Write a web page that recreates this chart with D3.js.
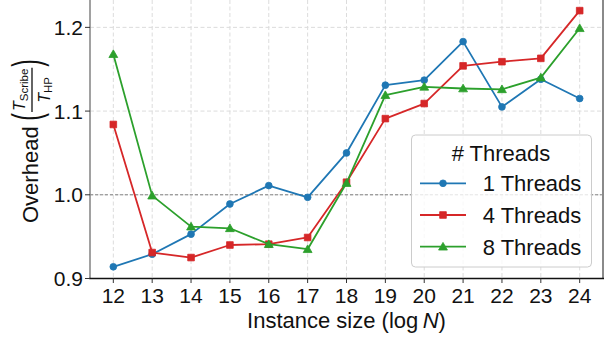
<!DOCTYPE html>
<html>
<head>
<meta charset="utf-8">
<script src="https://cdn.jsdelivr.net/npm/d3@7"></script>
<style>
  html, body { margin: 0; padding: 0; background: #fff; }
  svg { display: block; font-family: "Liberation Sans", Arial, Helvetica, sans-serif; }
</style>
</head>
<body>
<svg id="chart" width="611" height="339"></svg>
<script>
// Instance sizes (log N) and measured overhead T_Scribe / T_HP per thread count
const sizes = [12, 13, 14, 15, 16, 17, 18, 19, 20, 21, 22, 23, 24];
const threads1 = [0.914, 0.929, 0.953, 0.989, 1.011, 0.997, 1.050, 1.131, 1.137, 1.183, 1.105, 1.138, 1.115];
const threads4 = [1.084, 0.931, 0.925, 0.940, 0.941, 0.949, 1.015, 1.091, 1.109, 1.154, 1.159, 1.163, 1.220];
const threads8 = [1.168, 0.999, 0.962, 0.960, 0.941, 0.935, 1.014, 1.119, 1.129, 1.127, 1.126, 1.140, 1.199];
const seriesNames = ["1 Threads", "4 Threads", "8 Threads"];
const yTicks = [0.9, 1.0, 1.1, 1.2];
const xTickLabels = sizes.map(String);
const legendTitle = "# Threads";

const series = [
  { name: seriesNames[0], values: threads1, color: "#1f77b4", marker: "circle" },
  { name: seriesNames[1], values: threads4, color: "#d62728", marker: "square" },
  { name: seriesNames[2], values: threads8, color: "#2ca02c", marker: "triangle" }
];

const svg = d3.select("#chart");
const plot = { left: 90, right: 603, top: 0, bottom: 278.5 };

const x = d3.scaleLinear().domain([11.4, 24.6]).range([plot.left, plot.right]);
const y = d3.scaleLinear().domain([0.9, 1.2327]).range([plot.bottom, plot.top]);

// grid
const grid = svg.append("g");
grid.selectAll("line.vx").data(sizes).join("line")
  .attr("x1", d => x(d)).attr("x2", d => x(d))
  .attr("y1", plot.top).attr("y2", plot.bottom)
  .attr("stroke", "#dcdcdc").attr("stroke-width", 1).attr("stroke-dasharray", "4,2.5");
grid.selectAll("line.hy").data(yTicks).join("line")
  .attr("x1", plot.left).attr("x2", plot.right)
  .attr("y1", d => y(d)).attr("y2", d => y(d))
  .attr("stroke", "#dcdcdc").attr("stroke-width", 1).attr("stroke-dasharray", "4,2.5");

// reference line at overhead = 1
svg.append("line")
  .attr("x1", plot.left).attr("x2", plot.right)
  .attr("y1", y(1.0)).attr("y2", y(1.0))
  .attr("stroke", "#808080").attr("stroke-width", 1).attr("stroke-dasharray", "3,2");

// series
const sym = { circle: d3.symbolCircle, square: d3.symbolSquare, triangle: d3.symbolTriangle };
const symSize = { circle: 36, square: 44, triangle: 34 };
const line = d3.line().x((d, i) => x(sizes[i])).y(d => y(d));

series.forEach(s => {
  const g = svg.append("g");
  g.append("path").datum(s.values)
    .attr("d", line).attr("fill", "none")
    .attr("stroke", s.color).attr("stroke-width", 1.8).attr("stroke-linejoin", "round");
  g.selectAll("path.m").data(s.values).join("path")
    .attr("class", "m")
    .attr("d", d3.symbol().type(sym[s.marker]).size(symSize[s.marker]))
    .attr("transform", (d, i) => `translate(${x(sizes[i])},${y(d) + (s.marker === "triangle" ? 0.8 : 0)})`)
    .attr("fill", s.color).attr("stroke", s.color).attr("stroke-width", 0.8);
});

// spines
svg.append("line").attr("x1", plot.left).attr("x2", plot.left).attr("y1", plot.top).attr("y2", plot.bottom + 0.5)
  .attr("stroke", "#8a8a8a").attr("stroke-width", 1.6);
svg.append("line").attr("x1", plot.right).attr("x2", plot.right).attr("y1", plot.top).attr("y2", plot.bottom + 0.5)
  .attr("stroke", "#8a8a8a").attr("stroke-width", 2);
svg.append("line").attr("x1", plot.left - 0.8).attr("x2", plot.right + 1).attr("y1", plot.bottom).attr("y2", plot.bottom)
  .attr("stroke", "#111").attr("stroke-width", 1.6);

// y ticks and labels
const yAx = svg.append("g");
yAx.selectAll("line").data(yTicks).join("line")
  .attr("x1", plot.left - 5).attr("x2", plot.left)
  .attr("y1", d => y(d)).attr("y2", d => y(d))
  .attr("stroke", "#333").attr("stroke-width", 1);
yAx.selectAll("text").data(yTicks).join("text")
  .attr("x", 83).attr("y", d => y(d) + 7.5)
  .attr("text-anchor", "end").attr("font-size", 21).attr("fill", "#111")
  .text(d => d3.format(".1f")(d));

// x ticks and labels
const xAx = svg.append("g");
xAx.selectAll("line").data(sizes).join("line")
  .attr("x1", d => x(d)).attr("x2", d => x(d))
  .attr("y1", plot.bottom).attr("y2", plot.bottom + 4.5)
  .attr("stroke", "#333").attr("stroke-width", 1);
xAx.selectAll("text").data(sizes).join("text")
  .attr("x", d => x(d)).attr("y", 302.5)
  .attr("text-anchor", "middle").attr("font-size", 21).attr("fill", "#111")
  .text((d, i) => xTickLabels[i]);

// x axis label
const xl = svg.append("text").attr("x", (plot.left + plot.right) / 2).attr("y", 327.5)
  .attr("text-anchor", "middle").attr("font-size", 22).attr("fill", "#111");
xl.append("tspan").text("Instance size (log\u2009");
xl.append("tspan").attr("font-style", "italic").text("N");
xl.append("tspan").text(")");

// y axis label: Overhead ( T_Scribe / T_HP )
const yl = svg.append("g").attr("transform", "translate(37.5,223) rotate(-90)").attr("fill", "#111");
const word = yl.append("text").attr("x", 0).attr("y", 0).attr("font-size", 22).text("Overhead");
let cx = word.node().getComputedTextLength() + 6;

const lp = yl.append("g").attr("transform", `translate(${cx},-7) scale(1,1.85)`);
const lpt = lp.append("text").attr("y", 5.7).attr("font-size", 22).text("(");
cx += lpt.node().getComputedTextLength() + 1;

const num = yl.append("text").attr("font-size", 16);
num.append("tspan").attr("font-style", "italic").text("T");
num.append("tspan").attr("font-size", 11.5).attr("dy", 2.5).text("Scribe");
const den = yl.append("text").attr("font-size", 16);
den.append("tspan").attr("font-style", "italic").text("T");
den.append("tspan").attr("font-size", 11.5).attr("dy", 2.5).text("HP");
const wn = num.node().getComputedTextLength();
const wd = den.node().getComputedTextLength();
const barW = Math.max(wn, wd) + 2;
num.attr("x", cx + (barW - wn) / 2).attr("y", -12.5);
den.attr("x", cx + (barW - wd) / 2).attr("y", 12);
yl.append("line").attr("x1", cx).attr("x2", cx + barW).attr("y1", -5.5).attr("y2", -5.5)
  .attr("stroke", "#111").attr("stroke-width", 1.3);
cx += barW + 1;
const rp = yl.append("g").attr("transform", `translate(${cx},-7) scale(1,1.85)`);
rp.append("text").attr("y", 5.7).attr("font-size", 22).text(")");

// legend
const lg = svg.append("g");
lg.append("rect").attr("x", 411.5).attr("y", 135).attr("width", 180).attr("height", 132).attr("rx", 4)
  .attr("fill", "#fff").attr("fill-opacity", 0.8).attr("stroke", "#cccccc").attr("stroke-width", 1);
lg.append("text").attr("x", 501).attr("y", 161).attr("text-anchor", "middle")
  .attr("font-size", 22).attr("fill", "#111").text(legendTitle);
series.forEach((s, i) => {
  const cy = 183.3 + i * 31.7;
  lg.append("line").attr("x1", 420).attr("x2", 466).attr("y1", cy).attr("y2", cy)
    .attr("stroke", s.color).attr("stroke-width", 1.8);
  lg.append("path").attr("d", d3.symbol().type(sym[s.marker]).size(symSize[s.marker]))
    .attr("transform", `translate(443,${cy + (s.marker === "triangle" ? 0.8 : 0)})`)
    .attr("fill", s.color).attr("stroke", s.color).attr("stroke-width", 0.8);
  lg.append("text").attr("x", 482.7).attr("y", cy + 7.9)
    .attr("font-size", 22).attr("fill", "#111").text(s.name);
});
</script>
</body>
</html>
